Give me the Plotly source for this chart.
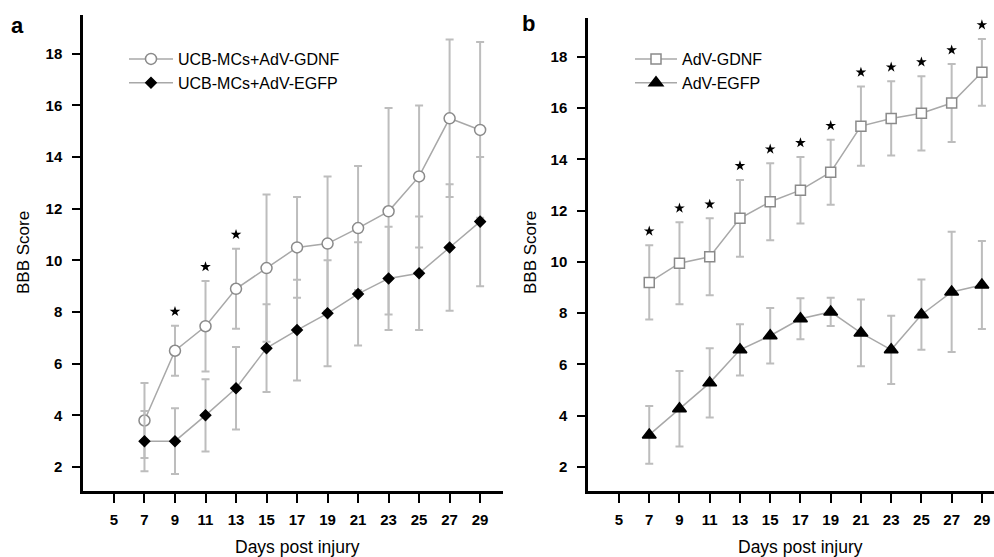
import plotly.graph_objects as go

# Days post injury (shared by both panels)
days = [7, 9, 11, 13, 15, 17, 19, 21, 23, 25, 27, 29]
x_ticks = [5, 7, 9, 11, 13, 15, 17, 19, 21, 23, 25, 27, 29]
y_ticks = [2, 4, 6, 8, 10, 12, 14, 16, 18]

# Panel a: UCB-MCs transplanted with AdV-GDNF vs AdV-EGFP (mean, SD)
a_gdnf = [3.8, 6.5, 7.45, 8.9, 9.7, 10.5, 10.65, 11.25, 11.9, 13.25, 15.5, 15.05]
a_gdnf_err = [1.45, 0.97, 1.75, 1.55, 2.85, 1.95, 2.6, 2.4, 4.0, 2.75, 3.05, 3.4]
a_egfp = [3.0, 3.0, 4.0, 5.05, 6.6, 7.3, 7.95, 8.7, 9.3, 9.5, 10.5, 11.5]
a_egfp_err = [1.17, 1.27, 1.4, 1.6, 1.7, 1.95, 2.05, 2.0, 2.0, 2.2, 2.45, 2.5]
a_sig_days = [9, 11, 13]

# Panel b: AdV-GDNF vs AdV-EGFP alone (mean, SD)
b_gdnf = [9.2, 9.95, 10.2, 11.7, 12.35, 12.8, 13.5, 15.3, 15.6, 15.8, 16.2, 17.4]
b_gdnf_err = [1.45, 1.6, 1.5, 1.5, 1.5, 1.3, 1.27, 1.55, 1.45, 1.45, 1.52, 1.3]
b_egfp = [3.25, 4.27, 5.28, 6.57, 7.12, 7.78, 8.05, 7.23, 6.57, 7.94, 8.83, 9.1]
b_egfp_err = [1.13, 1.47, 1.35, 1.0, 1.08, 0.8, 0.55, 1.3, 1.33, 1.37, 2.35, 1.72]
b_sig_days = days

STAR_GAP = 0.55  # distance between the upper error cap and the significance star

LINE_GREY = "#a8a8a8"
ERR_GREY = "#bdbdbd"
EDGE_GREY = "#8a8a8a"
FONT = "Liberation Sans, Arial, sans-serif"

W, H = 994, 557
TOP, BOTTOM = 15, 491  # pixel rows of the plotting area


def px_x(px):
    return px / W


def px_y(py):
    return (BOTTOM - py) / (BOTTOM - TOP)


def series(x, y, err, name, symbol, size, fill, edge, xa, ya, legend):
    return go.Scatter(
        x=x, y=y, name=name, mode="lines+markers",
        line=dict(color=LINE_GREY, width=1.5),
        marker=dict(symbol=symbol, size=size, color=fill,
                    line=dict(color=edge, width=1.5)),
        error_y=dict(type="data", array=err, visible=True,
                     color=ERR_GREY, thickness=2, width=4),
        xaxis=xa, yaxis=ya, legend=legend,
    )


def stars(sig_days, means, errs, xa, ya):
    lookup = {d: (m + e + STAR_GAP) for d, m, e in zip(days, means, errs)}
    return go.Scatter(
        x=list(sig_days), y=[lookup[d] for d in sig_days], mode="markers",
        marker=dict(symbol="star", size=8, color="black",
                    line=dict(width=0)),
        showlegend=False, hoverinfo="skip", xaxis=xa, yaxis=ya,
    )


fig = go.Figure()

# panel a
fig.add_trace(series(days, a_gdnf, a_gdnf_err, "UCB-MCs+AdV-GDNF",
                     "circle", 11, "white", EDGE_GREY, "x", "y", "legend"))
fig.add_trace(series(days, a_egfp, a_egfp_err, "UCB-MCs+AdV-EGFP",
                     "diamond", 8, "black", "black", "x", "y", "legend"))
fig.add_trace(stars(a_sig_days, a_gdnf, a_gdnf_err, "x", "y"))

# panel b
fig.add_trace(series(days, b_gdnf, b_gdnf_err, "AdV-GDNF",
                     "square", 10, "white", EDGE_GREY, "x2", "y2", "legend2"))
fig.add_trace(series(days, b_egfp, b_egfp_err, "AdV-EGFP",
                     "triangle-up", 12, "black", "black", "x2", "y2", "legend2"))
fig.add_trace(stars(b_sig_days, b_gdnf, b_gdnf_err, "x2", "y2"))

tick_font = dict(family=FONT, size=15, color="black", weight="bold")

xcommon = dict(
    tickvals=x_ticks, ticktext=[str(v) for v in x_ticks],
    showline=True, linecolor="black", linewidth=2.5,
    ticks="outside", ticklen=9, tickwidth=2, tickcolor="black",
    showgrid=False, zeroline=False, tickfont=tick_font,
    ticklabelstandoff=4,
)
ycommon = dict(
    tickvals=y_ticks, ticktext=[str(v) for v in y_ticks],
    showline=True, linecolor="black", linewidth=2.5,
    ticks="outside", ticklen=8, tickwidth=2, tickcolor="black",
    showgrid=False, zeroline=False, tickfont=tick_font,
    ticklabelstandoff=7,
)

legend_font = dict(family=FONT, size=16, color="black")

fig.update_layout(
    width=W, height=H,
    margin=dict(l=0, r=0, t=TOP, b=H - BOTTOM),
    paper_bgcolor="white", plot_bgcolor="white",
    font=dict(family=FONT, color="black"),
    xaxis=dict(domain=[px_x(83), px_x(503)], range=[2.97, 30.5],
               anchor="y", **xcommon),
    yaxis=dict(domain=[0, 1], range=[1.07, 19.5], anchor="x", **ycommon),
    xaxis2=dict(domain=[px_x(588), 1.0], range=[2.95, 29.8],
                anchor="y2", **xcommon),
    yaxis2=dict(domain=[0, px_y(18)], range=[1.06, 19.52],
                anchor="x2", **ycommon),
    legend=dict(x=px_x(124), y=px_y(42), xanchor="left", yanchor="top",
                bgcolor="rgba(0,0,0,0)", itemwidth=44, font=legend_font),
    legend2=dict(x=px_x(630), y=px_y(42), xanchor="left", yanchor="top",
                 bgcolor="rgba(0,0,0,0)", itemwidth=42, font=legend_font),
    showlegend=True,
)

annos = [
    dict(text="<b>a</b>", x=px_x(17), y=px_y(25), size=22),
    dict(text="<b>b</b>", x=px_x(528), y=px_y(23), size=22),
    dict(text="BBB Score", x=px_x(23), y=px_y(253), textangle=-90, size=17),
    dict(text="BBB Score", x=px_x(530), y=px_y(253), textangle=-90, size=17),
    dict(text="Days post injury", x=px_x(297), y=px_y(547), size=17.5),
    dict(text="Days post injury", x=px_x(800), y=px_y(547), size=17.5),
]
for a in annos:
    size = a.pop("size")
    fig.add_annotation(xref="paper", yref="paper", showarrow=False,
                       xanchor="center", yanchor="middle",
                       font=dict(family=FONT, color="black", size=size),
                       **a)

fig.write_html("out.html")
